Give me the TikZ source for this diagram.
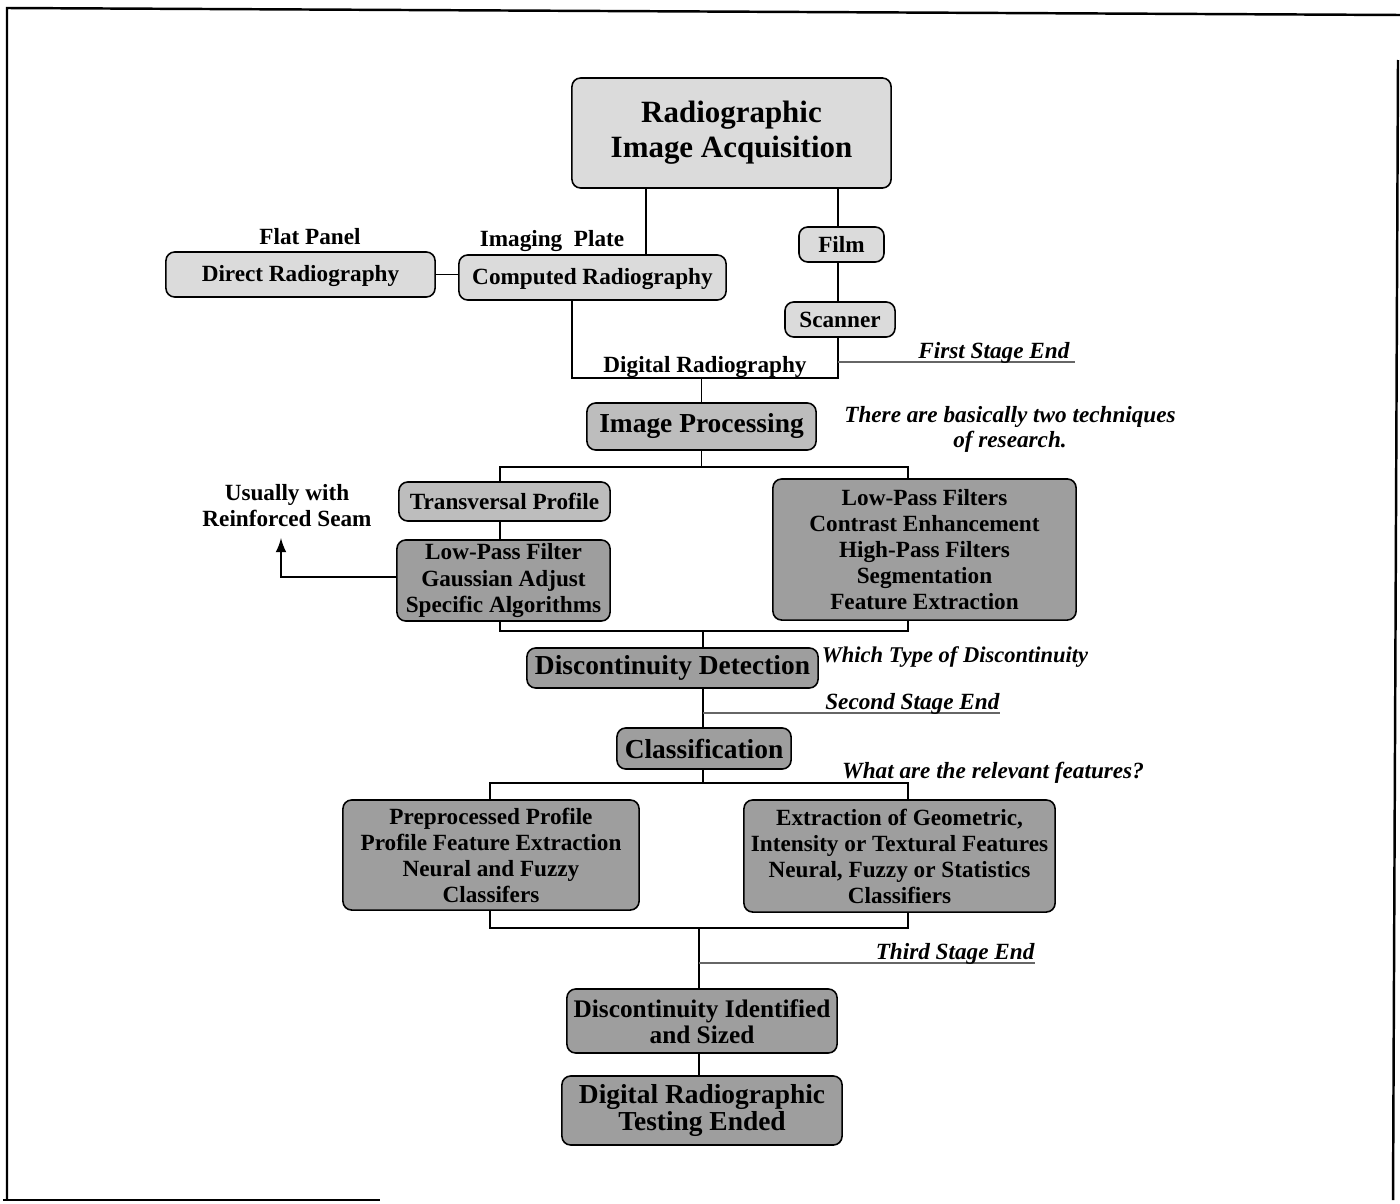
\documentclass[tikz,border=0pt]{standalone}
\usepackage{fontspec}
\setmainfont{Liberation Serif}
\usepackage{tikz}
\usetikzlibrary{calc}
\tikzset{
	box/.style={draw, line width=0.45pt, rounded corners=2.5pt, align=center, inner sep=0pt, font=\smallfont},
	lightbox/.style={box, fill=black!14},
	midbox/.style={box, fill=black!26},
	darkbox/.style={box, fill=black!38},
	label/.style={align=center, inner sep=0pt, font=\smallfont},
	note/.style={align=center, inner sep=0pt, text=black, font=\notefont},
	stageline/.style={black!60, line width=0.35pt},
	conn/.style={line width=0.4pt},
}
\newcommand{\smallfont}{\bfseries\fontsize{6.6}{7.4}\selectfont}
\newcommand{\midfont}{\bfseries\fontsize{7.8}{7.7}\selectfont}
\newcommand{\bigfont}{\bfseries\fontsize{8.8}{10}\selectfont}
\newcommand{\notefont}{\bfseries\itshape\fontsize{6.6}{7.1}\selectfont}
\begin{document}
\begin{tikzpicture}[x=0.01cm,y=-0.01cm]
			\useasboundingbox (0,0) rectangle (1400,1203);
			% page frame
			\draw[line width=0.7pt] (7,1200) -- (7,8) -- (1400,15);
			\draw[line width=0.7pt] (1398,60) -- (1393,1200);
			\draw[line width=0.7pt] (3,1200) -- (380,1200);

			% first stage: acquisition
			\node[lightbox, minimum width=3.19cm, minimum height=1.10cm, font=\bigfont] (acq) at (731.5,133) {Radiographic\\Image Acquisition};
			\node[lightbox, minimum width=0.85cm, minimum height=0.35cm] (film) at (841.5,244.5) {Film};
			\node[lightbox, minimum width=1.10cm, minimum height=0.35cm] (scan) at (840,319.5) {Scanner};
			\node[lightbox, minimum width=2.69cm, minimum height=0.45cm, text depth=0.02cm] (direct) at (300.5,274.5) {Direct Radiography};
			\node[lightbox, minimum width=2.67cm, minimum height=0.45cm, text depth=0.02cm] (comp) at (592.5,277.5) {Computed Radiography};
			\node[label] (flat) at (310,237) {Flat Panel};
			\node[label] (plate) at (552,241) {Imaging\ \ Plate};

			\coordinate (cr) at (646,0);
			\coordinate (busA) at (572,378);
			\coordinate (busB) at (838,378);
			\draw[conn] (acq.south -| cr) -- (comp.north -| cr);
			\draw[conn] (acq.south -| busB) -- (film.north -| busB);
			\draw[conn] (film.south -| busB) -- (scan.north -| busB);
			\draw[conn] (direct.east) -- (direct.east -| comp.west);
			\draw[conn] (comp.south -| busA) -- (busA) -- (busB) -- (scan.south -| busB);
			\node[label, anchor=base] (digr) at (705,372) {Digital Radiography};

			% end of first stage
			\draw[stageline] (busB |- 0,362) -- (1075,362) node[note, anchor=base east, xshift=-0.05cm, yshift=0.04cm] (s1) {First Stage End};

			% second stage: processing
			\node[midbox, minimum width=2.29cm, minimum height=0.47cm, font=\midfont] (ip) at (701.5,426.5) {Image Processing};
			\node[note] (tech) at (1010,429) {There are basically two techniques\\of research.};
			\draw[conn] (busA -| ip) -- (ip.north);

			\node[midbox, minimum width=2.11cm, minimum height=0.39cm] (trans) at (504.5,501.5) {Transversal Profile};
			\node[darkbox, minimum width=2.13cm, minimum height=0.81cm] (lowp) at (503.5,580.5) {Low-Pass Filter\\Gaussian Adjust\\Specific Algorithms};
			\node[darkbox, minimum width=3.03cm, minimum height=1.41cm] (filt) at (924.5,549.5) {Low-Pass Filters\\Contrast Enhancement\\High-Pass Filters\\Segmentation\\Feature Extraction};
			\node[label] (usual) at (287,506) {Usually with\\Reinforced Seam};
			\coordinate (tip) at (281,538);

			\coordinate (b2l) at (500,467);
			\coordinate (b2r) at (908,467);
			\draw[conn] (ip.south) -- (ip.south |- b2l);
			\draw[conn] (trans.north -| b2l) -- (b2l) -- (b2r) -- (filt.north -| b2r);
			\draw[conn] (trans.south -| b2l) -- (lowp.north -| b2l);
			\draw[conn, -latex] (lowp.west |- 0,577) -| (tip);

			\coordinate (b3l) at (500,631);
			\coordinate (b3r) at (908,631);
			\coordinate (b3m) at (703,631);
			\draw[conn] (lowp.south -| b3l) -- (b3l) -- (b3r) -- (filt.south -| b3r);

			\node[darkbox, minimum width=2.91cm, minimum height=0.40cm, font=\midfont] (dd) at (672.5,668) {Discontinuity Detection};
			\node[note, font=\bfseries\itshape\fontsize{6.4}{7}\selectfont] (which) at (955,657) {Which Type of Discontinuity};
			\draw[conn] (b3m) -- (dd.north -| b3m);

			% end of second stage
			\node[darkbox, minimum width=1.74cm, minimum height=0.41cm, font=\midfont] (cls) at (704,748.5) {Classification};
			\draw[conn] (dd.south -| b3m) -- (cls.north -| b3m);
			\draw[stageline] (b3m |- 0,713) -- (1000,713) node[note, anchor=base east, yshift=0.04cm] (s2) {Second Stage End};

			% third stage: classification
			\node[note] (feat) at (993,773) {What are the relevant features?};
			\node[darkbox, minimum width=2.96cm, minimum height=1.10cm] (lcls) at (491,855) {Preprocessed Profile\\Profile Feature Extraction\\Neural and Fuzzy\\Classifers};
			\node[darkbox, minimum width=3.11cm, minimum height=1.12cm] (rcls) at (899.5,856) {Extraction of Geometric,\\Intensity or Textural Features\\Neural, Fuzzy or Statistics\\Classifiers};

			\coordinate (b4l) at (490,783);
			\coordinate (b4r) at (908,783);
			\coordinate (b4m) at (703,783);
			\draw[conn] (cls.south -| b4m) -- (b4m);
			\draw[conn] (lcls.north -| b4l) -- (b4l) -- (b4r) -- (rcls.north -| b4r);

			\coordinate (b5l) at (490,928);
			\coordinate (b5r) at (908,928);
			\coordinate (b5m) at (699,928);
			\draw[conn] (lcls.south -| b5l) -- (b5l) -- (b5r) -- (rcls.south -| b5r);

			% end of third stage
			\node[darkbox, minimum width=2.70cm, minimum height=0.64cm, font=\bfseries\fontsize{7.2}{7.5}\selectfont] (di) at (702,1021) {\\[-0.6ex]Discontinuity Identified\\and Sized};
			\node[darkbox, minimum width=2.80cm, minimum height=0.69cm, font=\midfont] (fin) at (702,1110.5) {\\[-0.6ex]Digital Radiographic\\Testing Ended};
			\draw[conn] (b5m) -- (di.north -| b5m);
			\draw[stageline] (b5m |- 0,963) -- (1035,963) node[note, anchor=base east, yshift=0.04cm] (s3) {Third Stage End};
			\draw[conn] (di.south -| b5m) -- (fin.north -| b5m);

			\end{tikzpicture}
\end{document}
